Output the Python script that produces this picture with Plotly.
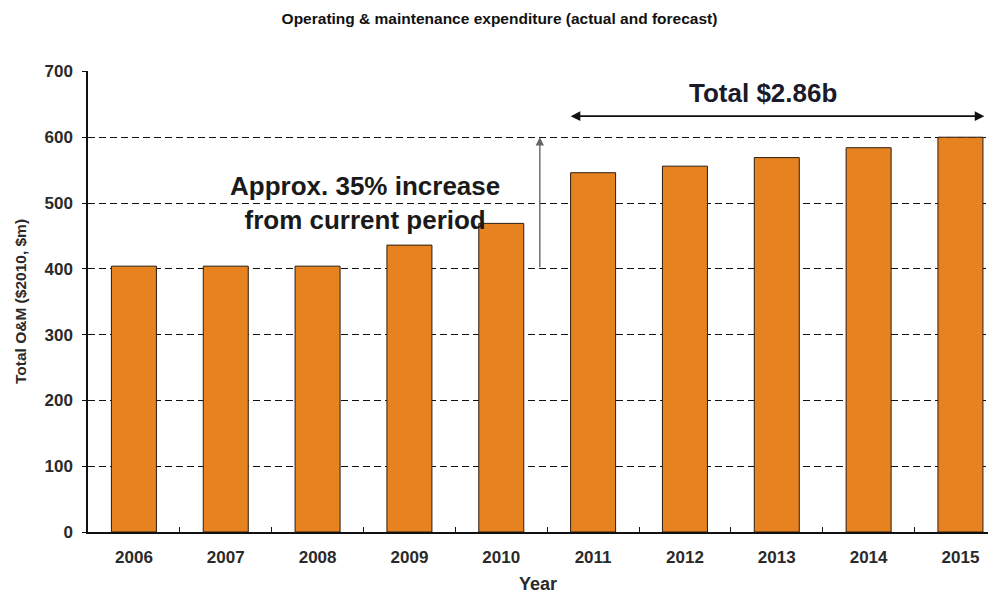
import plotly.graph_objects as go

# Operating & maintenance expenditure, $2010 millions
years = ["2006", "2007", "2008", "2009", "2010", "2011", "2012", "2013", "2014", "2015"]
om_spend = [404, 404, 404, 436, 469, 546, 556, 569, 584, 600]
y_ticks = [0, 100, 200, 300, 400, 500, 600, 700]

FONT = "Liberation Sans, Arial, sans-serif"
BAR = "#E6821F"
TXT = "#2a2a2a"

fig = go.Figure()
fig.add_trace(go.Bar(
    x=years, y=om_spend, width=0.49,
    marker=dict(color=BAR, line=dict(color="#2b1d10", width=1)),
    hoverinfo="x+y",
))

fig.update_layout(
    width=999, height=594,
    margin=dict(l=88, r=11, t=71, b=62),
    paper_bgcolor="white", plot_bgcolor="white",
    showlegend=False,
    font=dict(family=FONT, color=TXT),
    title=dict(
        text="<b>Operating & maintenance expenditure (actual and forecast)</b>",
        x=0.5, xanchor="center", y=0.969, yanchor="middle",
        font=dict(size=15.5, family=FONT, color="#111"),
    ),
    xaxis=dict(
        type="category", range=[-0.5, 9.3], automargin=False,
        showline=True, linecolor="#111", linewidth=1.5,
        ticks="inside", ticklen=5, tickcolor="#111", tickson="boundaries",
        tickfont=dict(size=17, family=FONT, color=TXT, weight="bold"),
        ticklabelstandoff=9,
        showgrid=False,
        title=dict(text="<b>Year</b>", font=dict(size=18, family=FONT, color=TXT), standoff=16),
    ),
    yaxis=dict(
        range=[0, 700.6], tickvals=y_ticks, automargin=False,
        showline=True, linecolor="#111", linewidth=1.5,
        ticks="outside", ticklen=4, tickcolor="#111",
        tickfont=dict(size=17, family=FONT, color=TXT, weight="bold"),
        ticklabelstandoff=6,
        showgrid=True, gridcolor="#111", griddash="7px,4px", gridwidth=1.2,
        zeroline=False,
        title=dict(text="<b>Total O&M ($2010, $m)</b>", font=dict(size=15.5, family=FONT, color=TXT), standoff=14),
    ),
)

# Double-headed span over the forecast years
fig.add_annotation(
    x=9.26, y=632, ax=4.74, ay=632, xref="x", yref="y", axref="x", ayref="y",
    text="", showarrow=True, arrowhead=2, startarrowhead=2, arrowside="end+start",
    arrowsize=1.2, startarrowsize=1.2, arrowwidth=1.6, arrowcolor="#111",
)
fig.add_annotation(
    x=6.85, y=667, xref="x", yref="y", text="<b>Total $2.86b</b>", showarrow=False,
    font=dict(size=26, family=FONT, color="#1a1a2a"),
)

# Upward arrow from the current level
fig.add_annotation(
    x=4.42, y=600, ax=4.42, ay=400, xref="x", yref="y", axref="x", ayref="y",
    text="", showarrow=True, arrowhead=2, arrowsize=1.2, arrowwidth=1.4, arrowcolor="#666",
)
fig.add_annotation(
    x=2.52, y=500, xref="x", yref="y",
    text="<b>Approx. 35% increase<br>from current period</b>", showarrow=False,
    font=dict(size=26, family=FONT, color="#1a1a1a"),
)

fig.write_html("out.html")
